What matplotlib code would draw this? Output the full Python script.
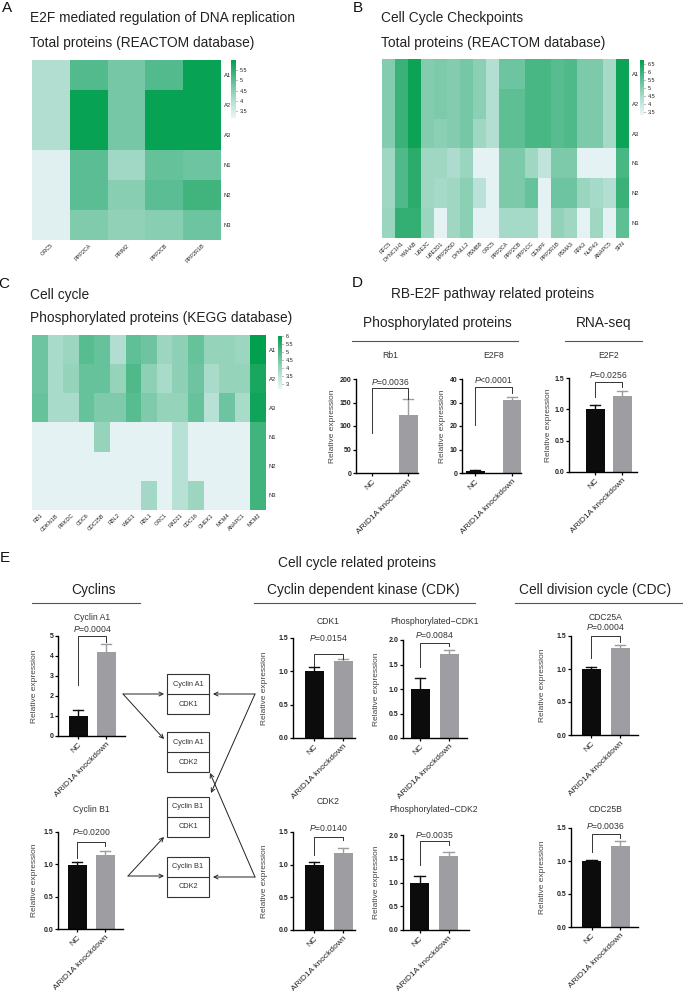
import numpy as np
import matplotlib
matplotlib.use('Agg')
import matplotlib.pyplot as plt
from matplotlib.colors import LinearSegmentedColormap
from matplotlib.patches import Rectangle
from matplotlib.ticker import FuncFormatter

plt.rcParams['font.family'] = ['Liberation Sans', 'DejaVu Sans']
plt.rcParams['mathtext.fontset'] = 'custom'
plt.rcParams['mathtext.rm'] = 'Liberation Sans'
plt.rcParams['mathtext.it'] = 'Liberation Sans:italic'

# ---------------- DATA ----------------
samples = ['A1', 'A2', 'A3', 'N1', 'N2', 'N3']

genes_a = ['ORC5', 'PPP2CA', 'PRIM2', 'PPP2CB', 'PPP2R1B']
heat_a = [
    [4.0, 5.1, 4.7, 5.1, 5.9],
    [4.0, 5.9, 4.7, 5.9, 5.9],
    [4.0, 5.9, 4.7, 5.9, 5.9],
    [3.3, 5.0, 4.2, 4.9, 4.8],
    [3.3, 5.0, 4.5, 5.0, 5.3],
    [3.3, 4.6, 4.4, 4.5, 4.8],
]

genes_b = ['RFC5', 'DYNC1H1', 'YWHAB', 'UBE2C', 'UBE2D1', 'PPP2R5D', 'DYNLL2', 'PSMB8', 'ORC5',
           'PPP2CA', 'PPP2CB', 'PPP1CC', 'CENPF', 'PPP2R1B', 'PSMA3', 'RPA3', 'NUP43', 'ANAPC5', 'SFN']
heat_b = [
    [5.0, 6.0, 6.6, 5.0, 5.1, 5.0, 5.2, 4.9, 4.3, 5.3, 5.3, 5.8, 5.8, 5.6, 5.7, 5.1, 5.1, 4.5, 6.6],
    [5.0, 6.0, 6.6, 5.0, 5.1, 5.0, 5.2, 4.9, 4.3, 5.5, 5.5, 5.8, 5.8, 5.6, 5.7, 5.1, 5.1, 4.5, 6.6],
    [5.0, 6.0, 6.6, 5.0, 4.9, 5.0, 5.2, 4.6, 4.3, 5.5, 5.5, 5.8, 5.8, 5.6, 5.7, 5.1, 5.1, 4.5, 6.6],
    [4.6, 5.7, 6.2, 4.6, 4.6, 4.4, 4.7, 3.4, 3.4, 5.1, 5.1, 4.6, 4.1, 5.1, 5.1, 3.4, 3.4, 3.4, 5.8],
    [4.6, 5.7, 6.2, 4.6, 4.5, 4.6, 4.9, 4.2, 3.4, 5.1, 5.1, 5.4, 3.4, 5.3, 5.3, 4.7, 4.5, 4.3, 6.0],
    [4.7, 6.1, 6.1, 4.7, 3.4, 4.6, 4.9, 3.4, 3.4, 4.5, 4.5, 4.5, 3.4, 4.8, 4.6, 3.4, 4.6, 3.4, 5.5],
]

genes_c = ['RB1', 'CDKN1B', 'PRKDC', 'CDC6', 'CDC25B', 'RBL2', 'WEE1', 'RBL1', 'ORC1', 'RAD21',
           'CDC16', 'CHEK1', 'MCM4', 'ANAPC1', 'MCM2']
heat_c = [
    [4.6, 3.8, 4.0, 4.9, 4.7, 3.7, 4.8, 4.6, 4.0, 4.2, 4.7, 4.1, 4.1, 4.0, 6.0],
    [4.6, 3.8, 4.1, 4.7, 4.7, 4.1, 5.0, 4.2, 3.8, 4.2, 4.6, 3.8, 4.1, 4.1, 5.7],
    [4.7, 3.8, 3.8, 4.7, 4.4, 4.4, 4.9, 4.4, 4.1, 4.1, 4.7, 3.6, 4.6, 3.8, 5.8],
    [2.8, 2.8, 2.8, 2.8, 4.1, 2.8, 2.8, 2.8, 2.8, 3.6, 2.8, 2.8, 2.8, 2.8, 5.2],
    [2.8, 2.8, 2.8, 2.8, 2.8, 2.8, 2.8, 2.8, 2.8, 3.6, 2.8, 2.8, 2.8, 2.8, 5.2],
    [2.8, 2.8, 2.8, 2.8, 2.8, 2.8, 2.8, 3.9, 2.8, 3.6, 4.0, 2.8, 2.8, 2.8, 5.2],
]

groups = ['NC', 'ARID1A knockdown']
bar_titles = ['Rb1', 'E2F8', 'E2F2', 'Cyclin A1', 'CDK1', 'Phosphorylated\u2212CDK1', 'CDC25A',
              'Cyclin B1', 'CDK2', 'Phosphorylated\u2212CDK2', 'CDC25B']
nc_mean = [1.0, 1.0, 1.0, 1.0, 1.0, 1.0, 1.0, 0.99, 1.0, 1.0, 1.0]
nc_sd = [0.0, 0.2, 0.07, 0.32, 0.065, 0.23, 0.03, 0.04, 0.035, 0.14, 0.02]
kd_mean = [123, 31, 1.21, 4.2, 1.16, 1.71, 1.32, 1.15, 1.18, 1.56, 1.23]
kd_sd = [35, 1.5, 0.08, 0.38, 0.03, 0.09, 0.045, 0.06, 0.07, 0.08, 0.07]
p_labels = ['$P$=0.0036', '$P$<0.0001', '$P$=0.0256', '$P$=0.0004', '$P$=0.0154', '$P$=0.0084',
            '$P$=0.0004', '$P$=0.0200', '$P$=0.0140', '$P$=0.0035', '$P$=0.0036']
brk_top = [181, 36.6, 1.44, 5.0, 1.26, 1.94, 1.5, 1.35, 1.43, 1.87, 1.41]
brk_left = [85, 20.5, 1.2, 2.55, 1.08, 1.45, 1.17, 1.10, 1.15, 1.37, 1.14]
brk_right = [157, 34, 1.36, 4.7, 1.19, 1.88, 1.41, 1.28, 1.37, 1.79, 1.35]
y_max = [200, 40, 1.5, 5, 1.5, 2.0, 1.5, 1.5, 1.5, 2.0, 1.5]
y_step = [50, 10, 0.5, 1, 0.5, 0.5, 0.5, 0.5, 0.5, 0.5, 0.5]

# ---------------- LAYOUT (pixels) ----------------
W, H = 683, 991
fig = plt.figure(figsize=(W / 100, H / 100), dpi=100)


def rect(x0, y0, x1, y1):
    return [x0 / W, 1 - y1 / H, (x1 - x0) / W, (y1 - y0) / H]


cmap = LinearSegmentedColormap.from_list('tealgreen', [
    (0.0, '#eaf4f7'), (0.25, '#bde3da'), (0.45, '#8fd1b7'),
    (0.65, '#5cbe94'), (0.85, '#2aac6c'), (1.0, '#00a04f')])

TXT = '#222222'


def heatmap(data, genes, hrect, crect, vmin, vmax, cticks):
    ax = fig.add_axes(rect(*hrect))
    im = ax.imshow(np.array(data), aspect='auto', cmap=cmap, vmin=vmin, vmax=vmax,
                   interpolation='nearest')
    for s in ax.spines.values():
        s.set_visible(False)
    ax.yaxis.tick_right()
    ax.set_yticks(range(len(samples)))
    ax.set_yticklabels(samples, fontsize=4.2, color=TXT)
    ax.set_xticks(range(len(genes)))
    ax.set_xticklabels(genes, rotation=45, ha='right', rotation_mode='anchor', fontsize=4.0,
                       color=TXT)
    ax.tick_params(length=0, pad=2)
    cax = fig.add_axes(rect(*crect))
    cb = fig.colorbar(im, cax=cax)
    cb.outline.set_visible(False)
    cb.set_ticks(cticks)
    cb.ax.yaxis.set_major_formatter(FuncFormatter(lambda v, p: f'{v:g}'))
    cb.ax.tick_params(labelsize=4.0, length=1.0, width=0.4, pad=1.5, colors=TXT)


heatmap(heat_a, genes_a, (32, 60, 221, 240), (231, 60, 236, 118), 3.15, 6.0,
        [3.5, 4, 4.5, 5, 5.5])
heatmap(heat_b, genes_b, (382, 59, 629, 238), (640, 60, 644, 115), 3.3, 6.75,
        [3.5, 4, 4.5, 5, 5.5, 6, 6.5])
heatmap(heat_c, genes_c, (32, 335, 266, 510), (278, 336, 282, 389), 2.7, 6.0,
        [3, 3.5, 4, 4.5, 5, 5.5, 6])

# bar panels layout: axes (left, top, right, bottom), bar centres, title y, P y, ylabel x
bar_axes = [(356, 379, 418, 473), (462, 379, 521, 473), (569, 378, 637, 472),
            (58, 636, 125, 736), (293, 638, 355, 738), (403, 640, 467, 738), (571, 636, 638, 735),
            (58, 832, 123, 929), (293, 832, 355, 930), (403, 835, 469, 930), (571, 828, 638, 927)]
bar_cx = [(372, 408), (475, 512), (595, 622),
          (78, 106), (314, 343), (420, 449), (591, 620),
          (77, 105), (314, 343), (419.5, 448.5), (591.5, 620)]
title_y = [356, 356, 356, 618, 621, 621, 618, 809, 802, 810, 809]
p_y = [382, 380, 375, 629, 638, 635, 627, 832, 828, 835, 826]
ylab_x = [333, 442, 549, 35, 265, 377, 542, 35, 265, 377, 542]

NC_COL = '#0c0c0c'
KD_COL = '#9e9da2'
SMALL = 6.2

ov = fig.add_axes([0, 0, 1, 1])
ov.set_xlim(0, W)
ov.set_ylim(H, 0)
ov.axis('off')

for i in range(len(bar_titles)):
    l, t, r, b = bar_axes[i]
    c0, c1 = bar_cx[i]
    u = c1 - c0
    ax = fig.add_axes(rect(l, t, r, b))
    ax.set_xlim(-(c0 - l) / u, 1 + (r - c1) / u)
    ax.set_ylim(0, y_max[i])
    bw = 19 / u
    means = [nc_mean[i], kd_mean[i]]
    sds = [nc_sd[i], kd_sd[i]]
    cols = [NC_COL, KD_COL]
    for k in range(2):
        ax.bar(k, means[k], width=bw, color=cols[k], zorder=2)
        if sds[k] > 0:
            top = means[k] + sds[k]
            ax.plot([k, k], [means[k], top], color=cols[k], lw=1.0, zorder=1, clip_on=False)
            ax.plot([k - bw * 0.27, k + bw * 0.27], [top, top], color=cols[k], lw=1.0,
                    zorder=1, clip_on=False)
    ax.plot([0, 0, 1, 1], [brk_left[i], brk_top[i], brk_top[i], brk_right[i]],
            color='#333333', lw=0.7, clip_on=False)
    ticks = np.arange(0, y_max[i] + y_step[i] / 2, y_step[i])
    ax.set_yticks(ticks)
    ax.set_yticklabels([f'{v:.1f}' if y_step[i] < 1 else f'{v:g}' for v in ticks],
                       fontsize=5.0, fontweight='bold', color=TXT)
    ax.set_xticks([0, 1])
    ax.set_xticklabels(groups, rotation=45, ha='right', rotation_mode='anchor', fontsize=6.0,
                       color=TXT)
    ax.spines[['top', 'right']].set_visible(False)
    for s in ['left', 'bottom']:
        ax.spines[s].set_linewidth(1.0)
    ax.tick_params(axis='y', length=2.2, width=0.9, pad=1)
    ax.tick_params(axis='x', length=2.2, width=0.9, pad=1.5)
    ax.set_ylabel('Relative expression', fontsize=6.0, color='#444444', va='center')
    ax.yaxis.set_label_coords((ylab_x[i] - l) / (r - l), 0.5)
    ax.patch.set_alpha(0)
    cx = (c0 + c1) / 2
    ov.text(cx, title_y[i], bar_titles[i], fontsize=SMALL, ha='center', va='center', color='#333333')
    ov.text(cx, p_y[i], p_labels[i], fontsize=SMALL, ha='center', va='center', color='#333333')

# ---------------- text / headings ----------------
HEAD = 9.9
for (x, y, s) in [(7, 8, 'A'), (358, 8, 'B'), (4, 284, 'C'), (357, 283, 'D'), (5, 558, 'E')]:
    ov.text(x, y, s, fontsize=11, ha='center', va='center', color='#111111')

ov.text(30, 18, 'E2F mediated regulation of DNA replication', fontsize=HEAD, va='center', color=TXT)
ov.text(30, 43, 'Total proteins (REACTOM database)', fontsize=HEAD, va='center', color=TXT)
ov.text(381, 18, 'Cell Cycle Checkpoints', fontsize=HEAD, va='center', color=TXT)
ov.text(381, 43, 'Total proteins (REACTOM database)', fontsize=HEAD, va='center', color=TXT)
ov.text(30, 295, 'Cell cycle', fontsize=HEAD, va='center', color=TXT)
ov.text(30, 318, 'Phosphorylated proteins (KEGG database)', fontsize=HEAD, va='center', color=TXT)

ov.text(493, 294, 'RB-E2F pathway related proteins', fontsize=HEAD, ha='center', va='center', color=TXT)
ov.text(437, 323, 'Phosphorylated proteins', fontsize=HEAD, ha='center', va='center', color=TXT)
ov.text(604, 323, 'RNA-seq', fontsize=HEAD, ha='center', va='center', color=TXT)
ov.plot([352, 518], [341, 341], color='#555555', lw=0.8)
ov.plot([565, 642], [341, 341], color='#555555', lw=0.8)

ov.text(357, 563, 'Cell cycle related proteins', fontsize=HEAD, ha='center', va='center', color=TXT)
ov.text(94, 590, 'Cyclins', fontsize=HEAD, ha='center', va='center', color=TXT)
ov.text(363, 590, 'Cyclin dependent kinase (CDK)', fontsize=HEAD, ha='center', va='center', color=TXT)
ov.text(595, 590, 'Cell division cycle (CDC)', fontsize=HEAD, ha='center', va='center', color=TXT)
ov.plot([32, 140], [603, 603], color='#555555', lw=0.8)
ov.plot([254, 475], [603, 603], color='#555555', lw=0.8)
ov.plot([515, 683], [603, 603], color='#555555', lw=0.8)

# ---------------- complex diagram ----------------
boxes = [('Cyclin A1', 'CDK1', 674), ('Cyclin A1', 'CDK2', 732),
         ('Cyclin B1', 'CDK1', 797), ('Cyclin B1', 'CDK2', 857)]
for top_lbl, bot_lbl, y0 in boxes:
    ov.add_patch(Rectangle((167, y0), 42, 40, fill=False, lw=0.8, edgecolor='#333333'))
    ov.plot([167, 209], [y0 + 20, y0 + 20], color='#333333', lw=0.8)
    ov.text(188, y0 + 10, top_lbl, fontsize=5.3, ha='center', va='center', color='#333333')
    ov.text(188, y0 + 30, bot_lbl, fontsize=5.3, ha='center', va='center', color='#333333')

arrows = [((123, 694), (164, 694)), ((123, 694), (164, 739)),
          ((128, 876), (164, 876)), ((128, 876), (164, 837)),
          ((255, 694), (213, 694)), ((255, 694), (211, 793)),
          ((255, 877), (213, 877)), ((255, 877), (210, 773))]
for (s, e) in arrows:
    ov.annotate('', xy=e, xytext=s,
                arrowprops=dict(arrowstyle='->', lw=0.7, color='#222222', shrinkA=0, shrinkB=0,
                                mutation_scale=7))

fig.savefig('out.png', dpi=100)
